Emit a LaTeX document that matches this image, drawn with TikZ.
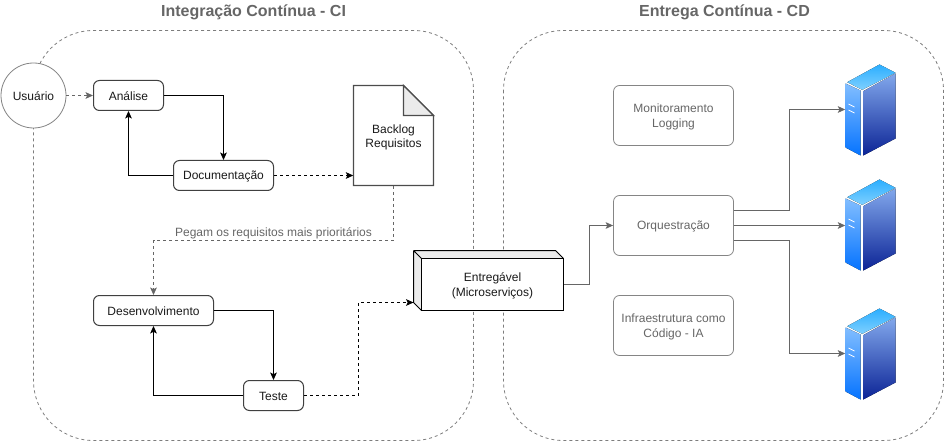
\documentclass[tikz,border=0pt]{standalone}
\usepackage{fontspec}
\setmainfont{Liberation Sans}
\usetikzlibrary{arrows.meta,calc}
\definecolor{linegray}{HTML}{666666}
\definecolor{txtgray}{HTML}{666666}
\definecolor{txtdark}{HTML}{1A1A1A}
\definecolor{foldgray}{HTML}{EBEBEB}
\definecolor{srvTopA}{HTML}{2BAEFF}
\definecolor{srvTopB}{HTML}{7FD0FF}
\definecolor{srvLeftA}{HTML}{82BEFF}
\definecolor{srvLeftB}{HTML}{0573FF}
\definecolor{srvRightA}{HTML}{82A8EC}
\definecolor{srvRightB}{HTML}{0C2496}
\newcommand\lowr[1]{\raisebox{-.5pt}[\height][\depth]{#1}}
\newcommand\twol[2]{\raisebox{-.9pt}[\height][\depth]{\def\arraystretch{1.07}\begin{tabular}{@{}c@{}}#1\\#2\end{tabular}}}
\tikzset{
  arrowtip/.style={-{Stealth[length=5.6pt,width=5pt,inset=1.2pt]}},
  dsh/.style={dash pattern=on 2.25pt off 2.25pt},
  container/.style={draw=linegray!85,line width=.6pt,dsh,rounded corners=45pt},
  boxdark/.style={draw=black!75,line width=.75pt,fill=white,rounded corners=4.5pt,inner sep=0pt,align=center,text=txtdark,minimum width=#1*.75pt,minimum height=22.5pt},
  boxlight/.style={draw=linegray!80,line width=.6pt,fill=white,rounded corners=4.5pt,inner sep=0pt,align=center,text=txtgray,minimum width=90pt,minimum height=#1*.75pt},
  solidb/.style={arrowtip,draw=black,line width=.75pt},
  dashb/.style={arrowtip,draw=black,line width=.75pt,dsh},
  dashg/.style={arrowtip,draw=linegray,line width=.75pt,dsh},
  solidg/.style={arrowtip,draw=linegray,line width=.75pt},
  title/.style={font=\bfseries\fontsize{12}{14}\selectfont,text=txtgray},
  srvbox/.style={inner sep=0pt,minimum width=37.5pt,minimum height=69pt},
  srvr/.pic={
    \fill[top color=srvTopA,bottom color=srvTopB] (-23.3,-27.3) -- (9,-45) -- (25,-36.7) -- (-8.3,-19.7) -- cycle;
    \fill[top color=srvLeftA,bottom color=srvLeftB] (-25,-26) -- (-10,-19) -- (-10,46) -- (-25,38) -- cycle;
    \fill[top color=srvRightA,bottom color=srvRightB] (-7.3,-18.3) -- (25,-36) -- (25,29) -- (-7.3,46) -- cycle;
    \draw[white,line width=.6pt] (-22,-5.5) -- (-16,-2.5) (-22,.5) -- (-16,3.5);
  },
}
\begin{document}
\begin{tikzpicture}[x=.75pt,y=-.75pt,font=\fontsize{9}{10.5}\selectfont]
\useasboundingbox (-.5,-.5) rectangle (943.5,440.5);
\draw[container] (33,30) rectangle (473,440);
\draw[container] (503,30) rectangle (943,440);
\node[title] (tci) at (253,12) {Integração Contínua - CI};
\node[title] (tcd) at (724,12) {Entrega Contínua - CD};

\node[circle,draw=linegray!80,line width=.6pt,fill=white,inner sep=0pt,minimum size=48.75pt,text=txtdark] (us) at (33,95) {\lowr{Usuário}};
\node[boxdark=70] (an) at (128,95) {\lowr{Análise}};
\node[boxdark=100] (doc) at (223,175) {\lowr{Documentação}};
\node[boxdark=120] (dev) at (153,310) {\lowr{Desenvolvimento}};
\node[boxdark=60] (te) at (273,395) {\lowr{Teste}};

\node[inner sep=0pt,minimum width=60pt,minimum height=75pt] (bk) at (393,135) {};
\draw[black!70,line width=1pt,fill=white] (353,85) -- (403,85) -- (433,115) -- (433,185) -- (353,185) -- cycle;
\draw[black!70,line width=1pt,fill=foldgray] (403,85) -- (433,115) -- (403,115) -- cycle;
\node[align=center,text=txtdark] (bkt) at (393,137) {Backlog\\Requisitos};

\fill[foldgray] (413,250) -- (556,250) -- (563,258) -- (421,258) -- (421,310) -- (413,302) -- cycle;
\draw[black,line width=.75pt] (413,250) -- (555,250) -- (563,258) (413,250) -- (413,302) -- (421,310) (413,250) -- (421,258);
\node[draw=black,line width=.75pt,fill=white,inner sep=0pt,align=center,text=txtdark,minimum width=106.5pt,minimum height=39pt] (ent) at (492,284) {\twol{Entregável}{(Microserviços)}};
\coordinate (entin) at (413,302);

\node[boxlight=60] (mon) at (673,115) {\twol{Monitoramento}{Logging}};
\node[boxlight=60] (orq) at (673,225) {\lowr{Orquestração}};
\node[boxlight=60] (inf) at (673,325) {\twol{Infraestrutura como}{Código - IA}};

\node[srvbox] (s1) at (870,109) {};
\node[srvbox] (s2) at (870,224) {};
\node[srvbox] (s3) at (870,353) {};
\pic at (870,109) {srvr};
\pic at (870,224) {srvr};
\pic at (870,353) {srvr};

\draw[dashg] (us) -- (an);
\draw[solidb] (an.east) -| (doc.north);
\draw[solidb] (doc.west) -| (an.south);
\draw[dashb] (doc.east) -- (bk.west |- doc.east);
\coordinate (turn) at (273,240);
\draw[dashg] (bk.south) -- (bk.south |- turn) -- (dev.north |- turn) -- (dev.north);
\node[text=txtgray,inner sep=0pt] (lab) at (273,232.5) {Pegam os requisitos mais prioritários};
\draw[solidb] (dev.east) -| (te.north);
\draw[solidb] (te.west) -| (dev.south);
\coordinate (mid) at (358,350);
\draw[dashb] (te.east) -| (mid) |- (entin);
\coordinate (mid2) at (589,255);
\draw[solidg] (ent.east) -| (mid2) |- (orq.west);
\coordinate (bus) at (788.5,225);
\draw[solidg] ($(orq.east)+(0,-15)$) -| (bus |- s1.west) -- (s1.west);
\draw[solidg] (orq.east) -- (orq.east -| s2.west);
\draw[solidg] ($(orq.east)+(0,15)$) -| (bus |- s3.west) -- (s3.west);
\end{tikzpicture}
\end{document}
